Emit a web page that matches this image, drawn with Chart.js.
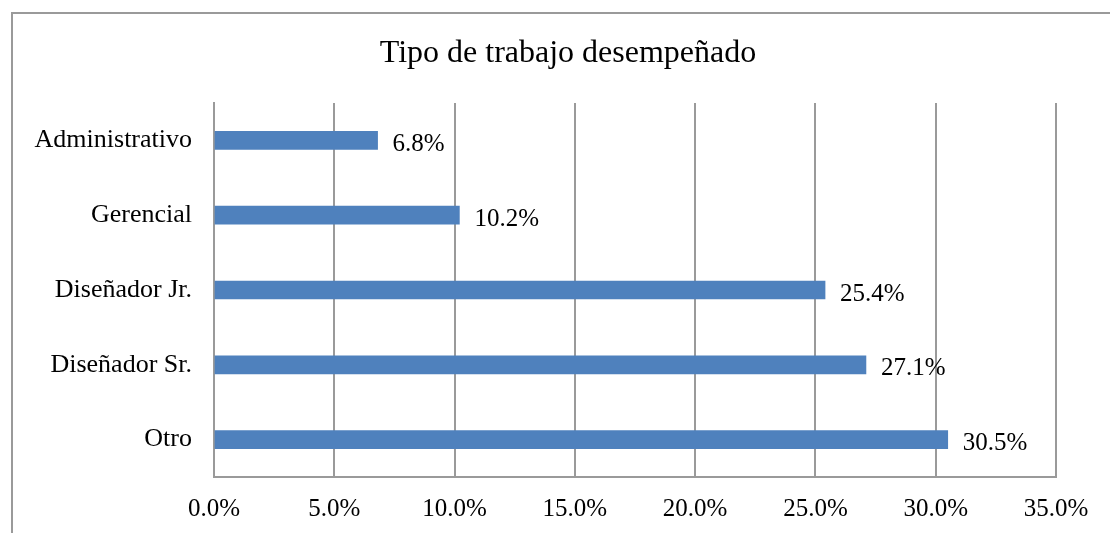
<!DOCTYPE html>
<html>
<head>
<meta charset="utf-8">
<script src="https://cdn.jsdelivr.net/npm/chart.js@4"></script>
<style>
  html, body { margin: 0; padding: 0; background: #fff; overflow: hidden; }
  #frame { position: absolute; left: 11px; top: 12px; width: 1200px; height: 600px; border: 2px solid #9a9a9a; }
  #myChart { position: absolute; left: 0; top: 0; }
</style>
</head>
<body>
<div id="frame"></div>
<canvas id="myChart" width="1110" height="533"></canvas>
<script>
const chartTitle = 'Tipo de trabajo desempeñado';
const categories = ['Administrativo', 'Gerencial', 'Diseñador Jr.', 'Diseñador Sr.', 'Otro'];
const values = [6.8, 10.2, 25.4, 27.1, 30.5];
const xTicks = [0, 5, 10, 15, 20, 25, 30, 35];

const serif = '"Liberation Serif", "Times New Roman", serif';

// etiquetas de valor al final de cada barra + titulo
const valueLabels = {
    id: 'valueLabels',
    afterDatasetsDraw(chart) {
        const ctx = chart.ctx;
        const meta = chart.getDatasetMeta(0);
        ctx.save();
        ctx.font = '25px ' + serif;
        ctx.fillStyle = '#000';
        ctx.textAlign = 'left';
        ctx.textBaseline = 'middle';
        meta.data.forEach((bar, i) => {
            ctx.fillText(values[i].toFixed(1) + '%', bar.x + 15, bar.y + 4);
        });

        // titulo (el de Excel no va centrado en el canvas)
        ctx.font = '32px ' + serif;
        ctx.textAlign = 'center';
        ctx.textBaseline = 'alphabetic';
        ctx.fillText(chartTitle, 568, 62);
        ctx.restore();
    }
};

const ctx = document.getElementById('myChart').getContext('2d');
window.myChart = new Chart(ctx, {
    type: 'bar',
    data: {
        labels: categories,
        datasets: [{
            data: values,
            backgroundColor: '#4f81bd',
            borderWidth: 0,
            barThickness: 18
        }]
    },
    options: {
        indexAxis: 'y',
        responsive: false,
        animation: false,
        devicePixelRatio: 1,
        layout: { padding: { left: 0, right: 54, top: 103, bottom: 0 } },
        plugins: {
            legend: { display: false },
            tooltip: { enabled: false },
            title: { display: false }
        },
        scales: {
            x: {
                min: 0,
                max: 35,
                afterBuildTicks: scale => {
                    scale.ticks = xTicks.map(v => ({ value: v }));
                },
                afterFit: scale => { scale.height = 56; },
                grid: { color: '#9a9a9a', lineWidth: 2, drawTicks: false },
                border: { color: '#9a9a9a', width: 2 },
                ticks: {
                    color: '#000',
                    padding: 17,
                    font: { family: serif, size: 25 },
                    callback: v => Number(v).toFixed(1) + '%'
                }
            },
            y: {
                afterFit: scale => { scale.width = 214; },
                grid: { color: 'rgba(0,0,0,0)', drawTicks: false },
                border: { color: '#9a9a9a', width: 2 },
                ticks: {
                    color: '#000',
                    padding: 22,
                    font: { family: serif, size: 26 }
                }
            }
        }
    },
    plugins: [valueLabels]
});
</script>
</body>
</html>
